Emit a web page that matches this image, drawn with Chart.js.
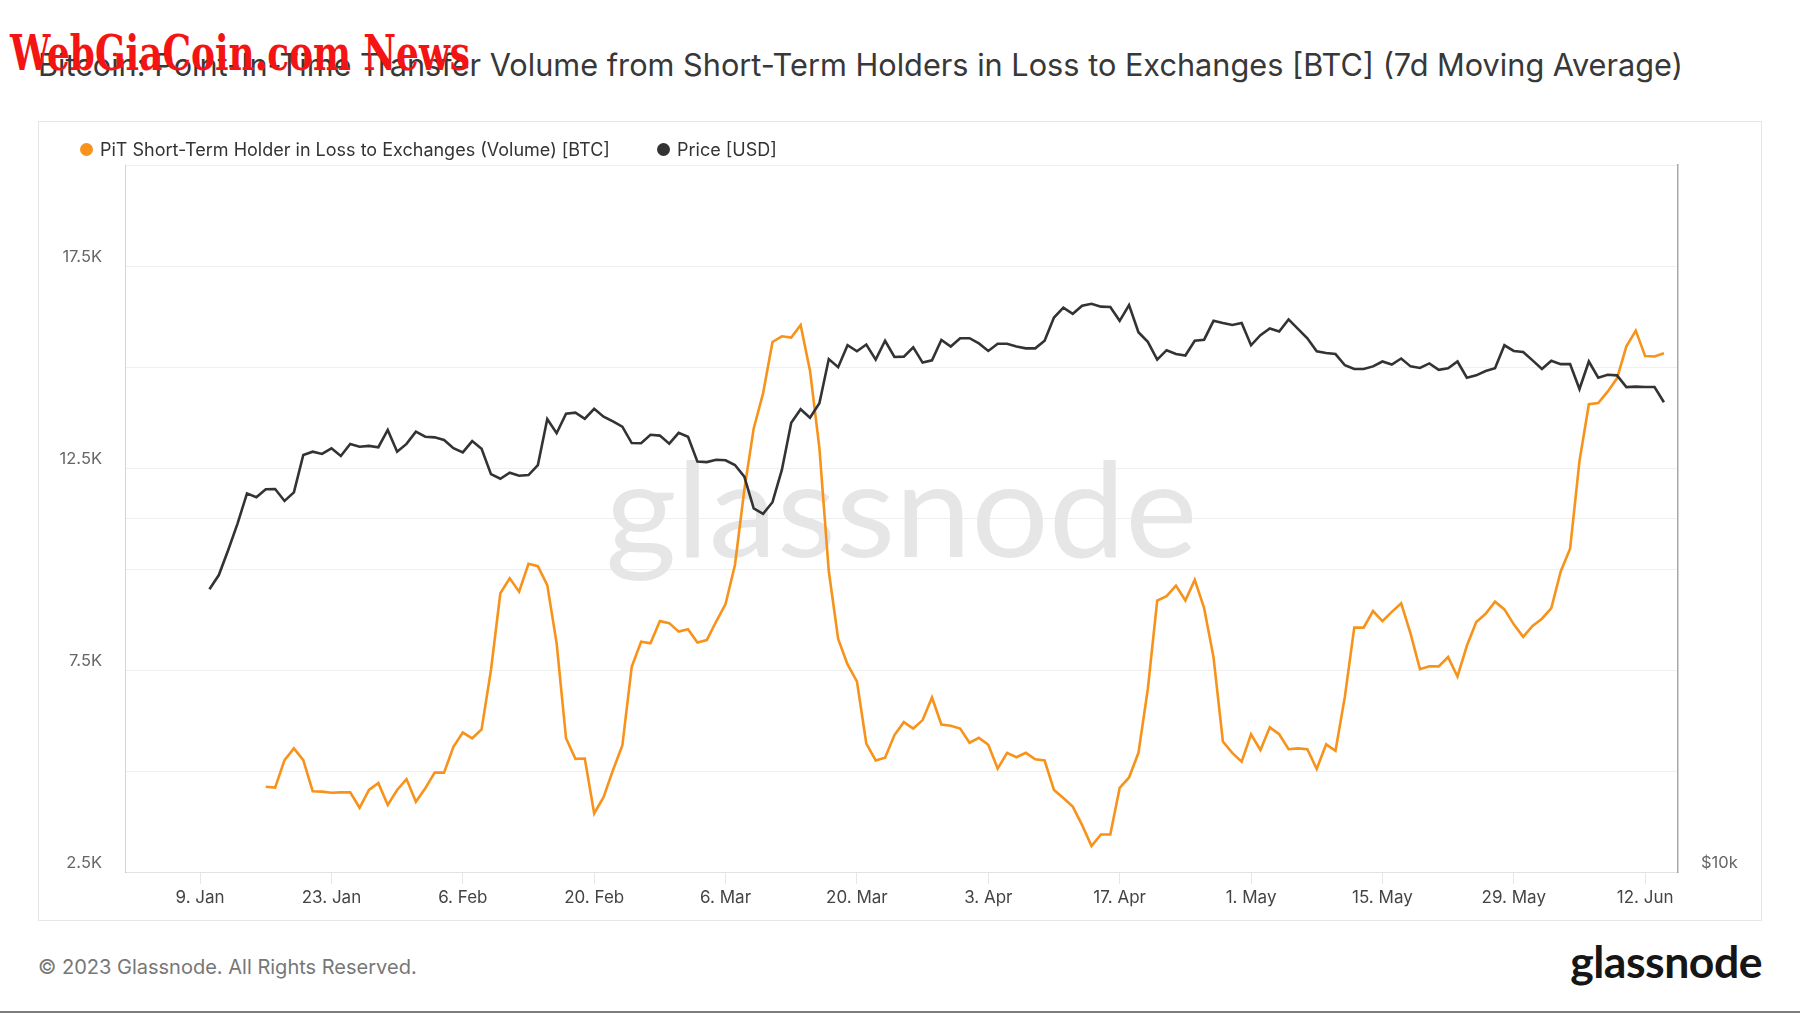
<!DOCTYPE html>
<html>
<head>
<meta charset="utf-8">
<title>PiT Short-Term Holder in Loss to Exchanges</title>
<script src="https://cdn.jsdelivr.net/npm/chart.js@4.4.0/dist/chart.umd.min.js"></script>
<style>
  html, body { margin: 0; padding: 0; background: #fff; }
  body { width: 1800px; height: 1013px; position: relative; overflow: hidden; font-family: Inter, "Noto Sans", sans-serif; color: #333; }
  .title { position: absolute; left: 38px; top: 50px; font-size: 28px; line-height: 30px; white-space: nowrap; color: #383838; }
  .frame { position: absolute; left: 38px; top: 121px; width: 1722px; height: 798px; border: 1px solid #e6e6e6; }
  .chart { position: absolute; left: 38px; top: 121px; width: 1724px; height: 800px; }
  .legend-item { position: absolute; top: 137px; height: 24px; display: flex; align-items: center; font-size: 18px; color: #333; white-space: nowrap; }
  .dot { width: 13px; height: 13px; border-radius: 50%; margin-right: 7px; }
  .copy { position: absolute; left: 38px; top: 955px; font-size: 19px; line-height: 24px; color: #777; white-space: nowrap; }
  .logo { position: absolute; right: 38px; top: 936px; font-family: Lato, sans-serif; font-weight: 700; font-size: 46px; line-height: 50px; color: #161616; white-space: nowrap; letter-spacing: -0.5px; }
  .overlay { position: absolute; left: 10px; top: 27px; font-family: "DejaVu Serif Condensed", "DejaVu Serif", serif; font-weight: bold; font-size: 49px; line-height: 52px; color: #f51414; white-space: nowrap; transform-origin: left top; }
  .edge { position: absolute; left: 0; top: 1011px; width: 1800px; height: 2px; background: #7d7d7d; }
</style>
</head>
<body>
<div class="title" id="title">Bitcoin: Point-In-Time Transfer Volume from Short-Term Holders in Loss to Exchanges [BTC] (7d Moving Average)</div>
<div class="frame"></div>
<div class="chart"><canvas id="chart"></canvas></div>
<div class="legend-item" style="left:80px"><span class="dot" style="background:#f7931a"></span><span id="leg1">PiT Short-Term Holder in Loss to Exchanges (Volume) [BTC]</span></div>
<div class="legend-item" style="left:657px"><span class="dot" style="background:#333"></span><span>Price [USD]</span></div>
<div class="copy" id="copy">© 2023 Glassnode. All Rights Reserved.</div>
<div class="logo" id="logo">glassnode</div>
<div class="overlay" id="overlay">WebGiaCoin.com News</div>
<div class="edge"></div>
<script>
// x values are days since 1 Jan 2023
const volumeStart = 15; // 16 Jan
const priceStart = 9;   // 10 Jan

// PiT STH in loss to exchanges, 7d MA [BTC]
const volume = [
  4610, 4590, 5270, 5560, 5270, 4500, 4490, 4460, 4470, 4470,
  4090, 4530, 4700, 4160, 4530, 4800, 4240, 4570, 4960, 4960,
  5600, 5950, 5810, 6030, 7500, 9400, 9770, 9440, 10130, 10070,
  9600, 8160, 5810, 5300, 5310, 3950, 4350, 5020, 5630, 7580,
  8200, 8160, 8710, 8660, 8450, 8510, 8180, 8240, 8700, 9130,
  10100, 11960, 13480, 14350, 15620, 15760, 15730, 16040, 14910, 13000,
  9950, 8270, 7640, 7220, 5680, 5260, 5330, 5890, 6210, 6050,
  6260, 6820, 6150, 6120, 6050, 5700, 5820, 5650, 5060, 5450,
  5340, 5450, 5290, 5260, 4530, 4330, 4120, 3660, 3140, 3430,
  3430, 4580, 4840, 5450, 7030, 9220, 9330, 9590, 9220, 9730,
  9030, 7820, 5730, 5450, 5230, 5910, 5520, 6080, 5910, 5540,
  5560, 5540, 5050, 5660, 5500, 6840, 8550, 8550, 8960, 8710,
  8940, 9150, 8400, 7520, 7590, 7590, 7820, 7340, 8100, 8690,
  8890, 9190, 9000, 8630, 8320, 8590, 8770, 9030, 9940, 10500,
  12670, 14080, 14110, 14390, 14720, 15510, 15900, 15270, 15260, 15340
];

// BTC price [USD]
const price = [
  17410, 17900, 18800, 19810, 21010, 20850, 21180, 21190, 20700, 21050,
  22650, 22800, 22700, 22950, 22610, 23150, 23020, 23060, 23000, 23790,
  22800, 23150, 23710, 23480, 23450, 23330, 22960, 22770, 23280, 22930,
  21820, 21620, 21880, 21750, 21780, 22210, 24310, 23640, 24560, 24610,
  24320, 24800, 24420, 24200, 23950, 23190, 23180, 23570, 23530, 23160,
  23660, 23480, 22360, 22340, 22440, 22420, 22210, 21710, 20400, 20180,
  20650, 22000, 24130, 24780, 24370, 25070, 27340, 26910, 28090, 27760,
  28130, 27310, 28340, 27450, 27470, 27980, 27150, 27270, 28380, 28020,
  28480, 28480, 28190, 27780, 28170, 28170, 28020, 27920, 27920, 28340,
  29660, 30240, 29880, 30350, 30470, 30300, 30280, 29470, 30390, 28820,
  28280, 27310, 27820, 27610, 27530, 28340, 28400, 29470, 29340, 29230,
  29340, 28090, 28650, 29030, 28860, 29550, 29010, 28480, 27760, 27670,
  27610, 27010, 26810, 26810, 26950, 27210, 27050, 27370, 26950, 26870,
  27110, 26770, 26850, 27210, 26360, 26480, 26710, 26850, 28090, 27780,
  27720, 27270, 26810, 27250, 27070, 27070, 25780, 27210, 26360, 26510,
  26480, 25880, 25900, 25880, 25880, 25120
];

const tickDays = [8, 22, 36, 50, 64, 78, 92, 106, 120, 134, 148, 162];
const tickLabels = ['9. Jan', '23. Jan', '6. Feb', '20. Feb', '6. Mar', '20. Mar', '3. Apr', '17. Apr', '1. May', '15. May', '29. May', '12. Jun'];
const volumeTicks = [2500, 5000, 7500, 10000, 12500, 15000, 17500, 20000];
const volumeLabels = { 2500: '2.5K', 7500: '7.5K', 12500: '12.5K', 17500: '17.5K' };
const priceTicks = [10000, 20000, 40000];
const priceLabels = { 10000: '$10k' };

// stretch a text element so it spans the width it has in the picture
function fitWidth(el, target) {
  const w = el.getBoundingClientRect().width;
  const fs = parseFloat(getComputedStyle(el).fontSize);
  el.style.fontSize = (fs * target / w) + 'px';
}
fitWidth(document.getElementById('title'), 1646);
fitWidth(document.getElementById('copy'), 379);
fitWidth(document.getElementById('logo'), 192);
const overlay = document.getElementById('overlay');
overlay.style.transform = 'scaleX(' + (460 / overlay.getBoundingClientRect().width) + ')';

const watermark = {
  id: 'watermark',
  beforeDatasetsDraw(chart) {
    const { ctx, chartArea } = chart;
    ctx.save();
    ctx.font = '132px Lato';
    ctx.fillStyle = '#e6e6e6';
    const w = ctx.measureText('glassnode').width;
    ctx.translate((chartArea.left + chartArea.right) / 2, chartArea.top + 392);
    ctx.scale(592 / w, 1);
    ctx.textAlign = 'center';
    ctx.fillText('glassnode', 0, 0);
    ctx.restore();
  }
};

const tickFont = { family: 'Inter', size: 16.5 };

new Chart(document.getElementById('chart'), {
  type: 'line',
  data: {
    datasets: [
      {
        label: 'Price [USD]',
        data: price.map((v, i) => ({ x: priceStart + i, y: v })),
        yAxisID: 'yPrice',
        borderColor: '#333333',
        borderWidth: 2.6,
        pointRadius: 0,
        tension: 0,
        order: 0
      },
      {
        label: 'PiT Short-Term Holder in Loss to Exchanges (Volume) [BTC]',
        data: volume.map((v, i) => ({ x: volumeStart + i, y: v })),
        yAxisID: 'yVol',
        borderColor: '#f7931a',
        borderWidth: 2.6,
        pointRadius: 0,
        tension: 0,
        order: 1
      }
    ]
  },
  options: {
    responsive: true,
    maintainAspectRatio: false,
    animation: false,
    layout: { padding: { top: 44, left: 0, right: 0, bottom: 0 } },
    plugins: {
      legend: { display: false },
      tooltip: { enabled: false }
    },
    scales: {
      x: {
        type: 'linear',
        min: 0,
        max: 165.5,
        afterBuildTicks: (s) => { s.ticks = tickDays.map(v => ({ value: v })); },
        afterFit: (s) => { s.height = 49; },
        ticks: {
          autoSkip: false,
          maxRotation: 0,
          padding: 4,
          color: '#444',
          font: { family: 'Inter', size: 17 },
          callback: (v) => tickLabels[tickDays.indexOf(v)]
        },
        grid: { drawOnChartArea: false, drawTicks: true, tickLength: 12, tickColor: '#e6e6e6' },
        border: { color: '#e2e2e2' }
      },
      yVol: {
        position: 'left',
        min: 2500,
        max: 20000,
        afterBuildTicks: (s) => { s.ticks = volumeTicks.map(v => ({ value: v })); },
        afterFit: (s) => { s.width = 87; },
        ticks: {
          autoSkip: false,
          padding: 23,
          labelOffset: -9,
          color: '#666',
          font: tickFont,
          callback: (v) => volumeLabels[v] || ''
        },
        grid: { color: '#efefef', drawTicks: false },
        border: { color: 'rgba(247,147,26,0.45)' }
      },
      yPrice: {
        type: 'logarithmic',
        position: 'right',
        min: 10000,
        max: 40000,
        afterBuildTicks: (s) => { s.ticks = priceTicks.map(v => ({ value: v })); },
        afterFit: (s) => { s.width = 84; },
        ticks: {
          autoSkip: false,
          padding: 23,
          labelOffset: -9,
          color: '#666',
          font: tickFont,
          callback: (v) => priceLabels[v] || ''
        },
        grid: { color: '#efefef', drawTicks: false },
        border: { color: '#a8a8a8', width: 1.5 }
      }
    }
  },
  plugins: [watermark]
});
</script>
</body>
</html>
